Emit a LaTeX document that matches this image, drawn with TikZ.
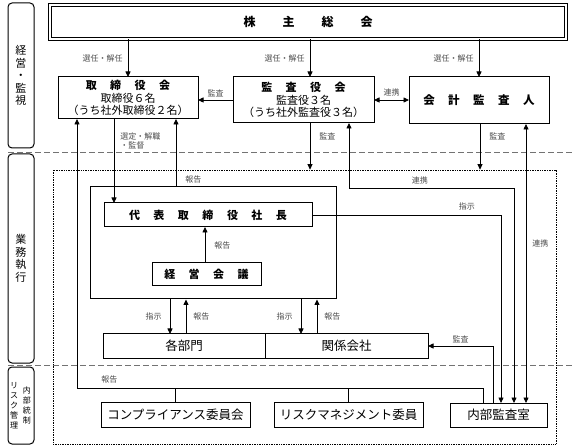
\documentclass[tikz,border=0pt]{standalone}
\usepackage{fontspec}
\setmainfont{Noto Sans CJK JP}
\usetikzlibrary{arrows,arrows.meta,positioning}
\newcommand{\jsp}[1][13.5pt]{\hspace{#1}}

\begin{document}
\begin{tikzpicture}[>={Triangle[length=5.5pt,width=5pt]}, x=1pt, y=-1pt, line width=0.8pt]
\tikzstyle{box}=[draw, line width=1pt, inner sep=1pt, outer sep=0pt, align=center, font=\fontsize{11}{12.5}\selectfont]
\tikzstyle{unit}=[box, minimum height=24, font=\fontsize{12.5}{13}\selectfont]
\tikzstyle{lbl}=[font=\fontsize{8}{9.5}\selectfont, text=black!70, inner sep=2pt]
\tikzstyle{side}=[draw, rounded corners=4pt, line width=1pt, minimum width=26, inner sep=0pt, align=center, font=\fontsize{11}{12.5}\selectfont]
\tikzstyle{vt}=[inner sep=0pt, align=center, font=\fontsize{8}{10}\selectfont]
\tikzstyle{zone}=[black!55, dash pattern=on 6pt off 3pt]
\useasboundingbox (0,0) rectangle (573,446);

% left column
\node[side, minimum height=145] (kanshi) at (21,75.5) {経\\営\\・\\監\\視};
\node[side, minimum height=209] (gyomu) at (21,258.5) {業\\務\\執\\行};
\node[side, minimum height=77] (naisei) at (21,405.5) {};
\node[vt] (naisei1) at ([xshift=6]naisei.center) {内\\部\\統\\制};
\node[vt] (naisei2) at ([xshift=-7]naisei.center) {リ\\ス\\ク\\管\\理};
\draw[zone] (8,152) -- (573,152);
\draw[zone] (8,365) -- (573,365);

% frames
\node[draw, densely dotted, line width=0.7pt, minimum width=503, minimum height=274, inner sep=0pt] (dots) at (304.5,307) {};
\node[draw, line width=1pt, minimum width=246, minimum height=112, inner sep=0pt] (exec) at (213,243) {};

% boxes
\node[box, double, double distance=1.6pt, minimum width=516, minimum height=34, font=\bfseries\fontsize{12}{13}\selectfont] (sh) at (308,22) {株\jsp[27pt]主\jsp[27pt]総\jsp[27pt]会};
\node[box, minimum width=140, minimum height=42] (bod) at (128,98) {\textbf{取\jsp 締\jsp 役\jsp 会}\\取締役６名\\（うち社外取締役２名）};
\node[box, minimum width=141, minimum height=46] (kan) at (303.5,100) {\textbf{監\jsp 査\jsp 役\jsp 会}\\監査役３名\\（うち社外監査役３名）};
\node[box, minimum width=140, minimum height=47, font=\bfseries\fontsize{11.5}{13}\selectfont] (kaikei) at (479,100.5) {会\jsp 計\jsp 監\jsp 査\jsp 人};
\node[box, minimum width=208, minimum height=24, font=\bfseries\fontsize{11}{13}\selectfont] (ceo) at (208,215) {代\jsp 表\jsp 取\jsp 締\jsp 役\jsp 社\jsp 長};
\node[box, minimum width=109, minimum height=23, font=\bfseries\fontsize{11}{13}\selectfont] (keiei) at (206.5,274.5) {経\jsp 営\jsp 会\jsp 議};
\node[unit, minimum width=162] (bumon) at (184,346) {各部門};
\node[unit, minimum width=163, right=0pt of bumon] (kankei) {関係会社};
\node[unit, minimum width=149, minimum height=25] (comp) at (175.5,414.5) {コンプライアンス委員会};
\node[unit, minimum width=149, minimum height=25] (risk) at (348.5,414.5) {リスクマネジメント委員};
\node[unit, minimum width=97] (naibu) at (498.5,415) {内部監査室};
\coordinate (rep) at (77,388);

% top level
\draw[->] (sh.south -| bod) -- node[lbl,left=3pt]{選任・解任} (bod);
\draw[->] (sh.south -| 310,0) -- node[lbl,left=3pt]{選任・解任} (kan.north -| 310,0);
\draw[->] (sh.south -| kaikei) -- node[lbl,left=3pt]{選任・解任} (kaikei);
\draw[->] (kan.west) -- node[lbl,above=1pt]{監査} (kan.west -| bod.east);
\draw[<->] (kan.east) -- node[lbl,above=1pt]{連携} (kan.east -| kaikei.west);

% board and execution
\draw[->] (bod.south -| 114,0) -- node[lbl,right=4pt,pos=0.26,align=left]{選定・解職\\・監督} (ceo.north -| 114,0);
\draw[->] (exec.north -| 176,0) -- node[lbl,right=7pt,pos=0.1]{報告} (bod.south -| 176,0);
\draw[->] (keiei.north -| 205,0) -- node[lbl,right=7pt]{報告} (ceo.south -| 205,0);
\draw[->] (exec.south -| 170,0) -- node[lbl,left=6pt]{指示} (bumon.north -| 170,0);
\draw[->] (bumon.north -| 186,0) -- node[lbl,right=5pt]{報告} (exec.south -| 186,0);
\draw[->] (exec.south -| 301,0) -- node[lbl,left=6pt]{指示} (kankei.north -| 301,0);
\draw[->] (kankei.north -| 317,0) -- node[lbl,right=5pt]{報告} (exec.south -| 317,0);

% audit lines
\draw[->] (kan.south -| 310,0) -- node[lbl,right=7pt,pos=0.28]{監査} (dots.north -| 310,0);
\draw[->] (kaikei.south -| 480,0) -- node[lbl,right=7pt,pos=0.28]{監査} (dots.north -| 480,0);
\draw[<->] (kan.south -| 349,0) -- (349,188) -- node[lbl,above=1pt,pos=0.43]{連携} (514,188) -- (naibu.north -| 514,0);
\draw[->] (ceo.east) -| node[lbl,above=2pt,pos=0.41]{指示} (naibu.north -| 501,0);
\draw[<->] (naibu.north -| 526,0) -- node[lbl,right=4pt,pos=0.573]{連携} (kaikei.south -| 526,0);
\draw[->] (naibu.north -| 493,0) |- node[lbl,above=1pt,pos=0.75]{監査} (kankei.east);

% internal control
\draw (comp.north) -- (comp.north |- rep);
\draw (risk.north) -- (risk.north |- rep);
\draw (rep) -- node[lbl,above=2pt,pos=0.08]{報告} (rep -| 483,0) -- (naibu.north -| 483,0);
\draw[->] (rep) -- (rep |- bod.south);
\end{tikzpicture}
\end{document}
